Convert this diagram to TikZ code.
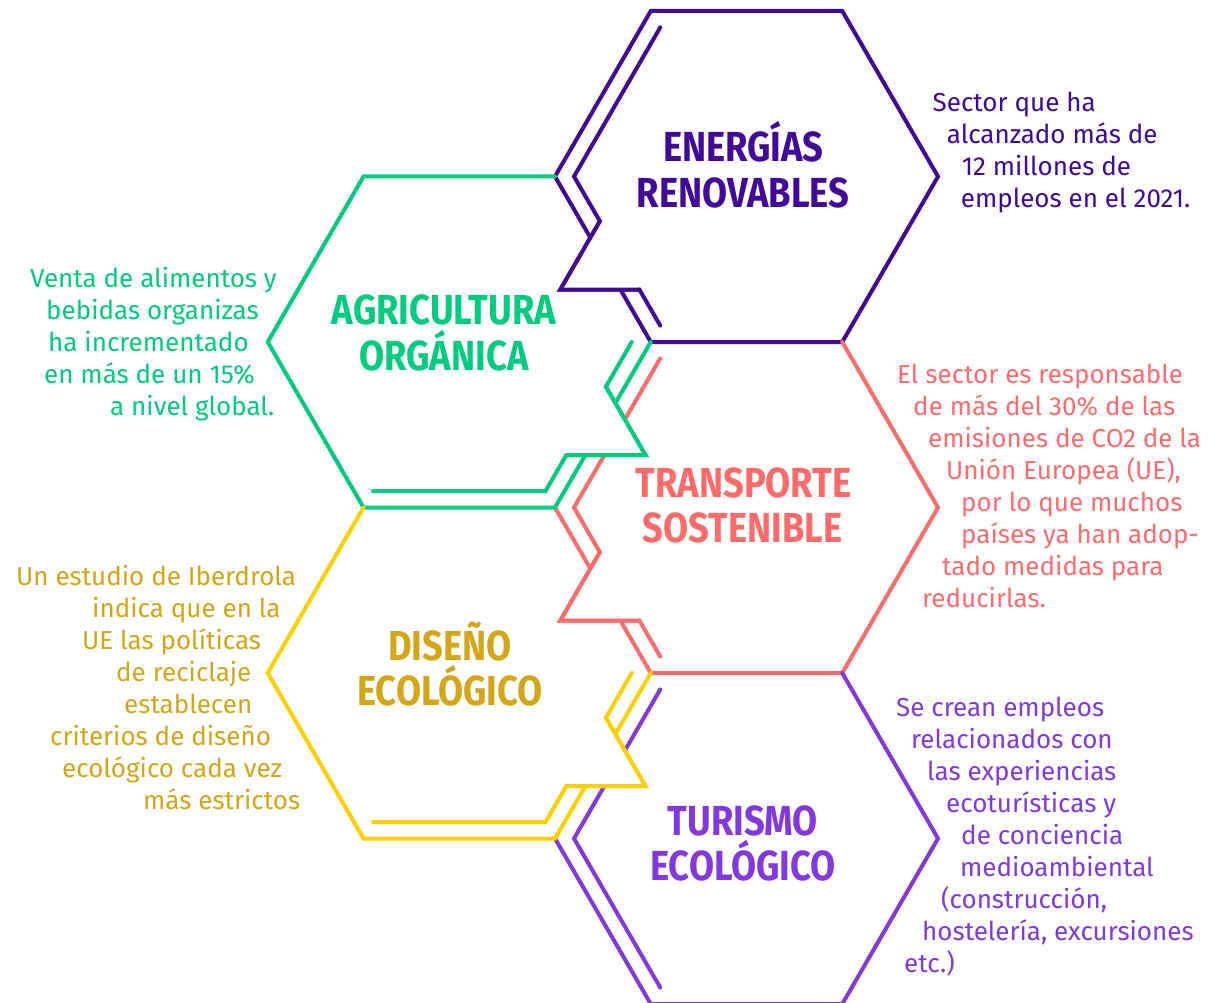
\documentclass[tikz,border=0pt]{standalone}
\usepackage{fontspec}
\usetikzlibrary{calc}
\newfontfamily\bodyfont{Fira Sans}
\newfontfamily\titlefont[FakeStretch=0.865]{Fira Sans}
\definecolor{cEc}{RGB}{66,8,153}
\definecolor{cAc}{RGB}{0,204,126}
\definecolor{cTc}{RGB}{255,107,107}
\definecolor{cDc}{RGB}{255,207,0}
\definecolor{cDt}{RGB}{212,165,20}
\definecolor{cUc}{RGB}{131,56,222}
\newcommand{\mkhex}[3]{%
 \coordinate (#1-0) at ({#2+191.5},{#3});
 \coordinate (#1-1) at ({#2+95.75},{#3-165.5});
 \coordinate (#1-2) at ({#2-95.75},{#3-165.5});
 \coordinate (#1-3) at ({#2-191.5},{#3});
 \coordinate (#1-4) at ({#2-95.75},{#3+165.5});
 \coordinate (#1-5) at ({#2+95.75},{#3+165.5});
 \coordinate (#1-i0) at ({#2+172.5},{#3});
 \coordinate (#1-i1) at ({#2+86.25},{#3-149.1});
 \coordinate (#1-i2) at ({#2-86.25},{#3-149.1});
 \coordinate (#1-i3) at ({#2-172.5},{#3});
 \coordinate (#1-i4) at ({#2-86.25},{#3+149.1});
 \coordinate (#1-i5) at ({#2+86.25},{#3+149.1});
}
\newcommand{\trileft}[1]{%
 \coordinate (#1-ta) at ($(#1-i3)!0.30!(#1-i4)$);
 \coordinate (#1-tc) at ($(#1-i3)!0.758!(#1-i4)$);
 \coordinate (#1-tb) at ($(#1-tc)+(-79,0)$);
}
\newcommand{\triright}[1]{%
 \coordinate (#1-ta) at ($(#1-i0)!0.30!(#1-i5)$);
 \coordinate (#1-tc) at ($(#1-i0)!0.758!(#1-i5)$);
 \coordinate (#1-tb) at ($(#1-tc)+(79,0)$);
}
\tikzset{
 hexline/.style={line width=4pt, line cap=round, line join=miter},
 ttl/.style={font=\titlefont\bfseries\fontsize{42}{46}\selectfont, anchor=base, inner sep=0pt},
 txt/.style={font=\bodyfont\fontsize{26}{32}\selectfont, anchor=base west, inner sep=0pt},
}
\begin{document}
\begin{tikzpicture}[x=1pt,y=-1pt]
\useasboundingbox (0,0) rectangle (1227,1003);
\fill[white] (0,0) rectangle (1227,1003);
\mkhex{E}{746.5}{176.5}
\mkhex{T}{746.5}{507.5}
\mkhex{U}{746.5}{838.5}
\mkhex{A}{459.25}{342}
\mkhex{D}{459.25}{673}
\trileft{E}
\trileft{T}
\triright{A}
\triright{D}
% outer outlines
\draw[hexline, cEc] (E-0)--(E-1)--(E-2)--(E-3)--(E-4)--(E-5)--cycle;
\draw[hexline, cTc] (T-3)--(T-4)--(T-5)--(T-0)--(T-1);
\draw[hexline, cUc] (U-3)--(U-4)--(U-5)--(U-0)--(U-1);
\draw[hexline, cAc] (A-1)--(A-2)--(A-3)--(A-4)--(A-5)--(A-0);
\draw[hexline, cDc] (D-2)--(D-3)--(D-4)--(D-5)--(D-0);
% inner lines
\draw[hexline, cEc] (E-i2)--(E-i3)--(E-ta)--(E-tb)--(E-tc)--(E-i4);
\draw[hexline, cTc] (T-i2)--(T-i3)--(T-ta)--(T-tb)--(T-tc)--(T-i4);
\draw[hexline, cUc] (U-i2)--(U-i3)--(U-i4);
\draw[hexline, cAc] (A-i4)--(A-i5)--(A-tc)--(A-tb)--(A-ta)--(A-i0);
\draw[hexline, cDc] (D-i4)--(D-i5)--(D-tc)--(D-tb)--(D-ta)--(D-i0);
% notches
\fill[white] (E-ta)--(E-tb)--(E-tc)--cycle;
\draw[hexline, cEc] (E-ta)--(E-tb)--(E-tc);
\fill[white] (T-ta)--(T-tb)--(T-tc)--cycle;
\draw[hexline, cTc] (T-ta)--(T-tb)--(T-tc);
\fill[white] (A-ta)--(A-tb)--(A-tc)--cycle;
\draw[hexline, cAc] (A-ta)--(A-tb)--(A-tc);
\fill[white] (D-ta)--(D-tb)--(D-tc)--cycle;
\draw[hexline, cDc] (D-ta)--(D-tb)--(D-tc);
% titles
\node[ttl, text=cEc] (tE1) at (743.5,162) {ENERGÍAS};
\node[ttl, text=cEc] (tE2) at (743,208) {RENOVABLES};
\node[ttl, text=cAc] (tA1) at (444,324) {AGRICULTURA};
\node[ttl, text=cAc] (tA2) at (444,370) {ORGÁNICA};
\node[ttl, text=cTc] (tT1) at (743.5,497) {TRANSPORTE};
\node[ttl, text=cTc] (tT2) at (742.5,542) {SOSTENIBLE};
\node[ttl, text=cDt] (tD1) at (450,660) {DISEÑO};
\node[ttl, text=cDt] (tD2) at (450,705) {ECOLÓGICO};
\node[ttl, text=cUc] (tU1) at (743,835) {TURISMO};
\node[ttl, text=cUc] (tU2) at (743,880) {ECOLÓGICO};
% energias text
\node[txt, text=cEc] (e1) at (932.5,111.5) {Sector que ha};
\node[txt, text=cEc] (e2) at (946.7,143.5) {alcanzado más de};
\node[txt, text=cEc] (e3) at (961.7,175.5) {12 millones de};
\node[txt, text=cEc] (e4) at (960.7,207.5) {empleos en el 2021.};
% agricultura text
\node[txt, text=cAc] (a1) at (30,287.5) {Venta de alimentos y};
\node[txt, text=cAc] (a2) at (46,319.5) {bebidas organizas};
\node[txt, text=cAc] (a3) at (48,351.5) {ha incrementado};
\node[txt, text=cAc] (a4) at (44,383.5) {en más de un 15\%};
\node[txt, text=cAc] (a5) at (110,415.5) {a nivel global.};
% transporte text
\node[txt, text=cTc] (t1) at (897,383.5) {El sector es responsable};
\node[txt, text=cTc] (t2) at (913,415.5) {de más del 30\% de las};
\node[txt, text=cTc] (t3) at (928,447.5) {emisiones de CO2 de la};
\node[txt, text=cTc] (t4) at (946,479.5) {Unión Europea (UE),};
\node[txt, text=cTc] (t5) at (961,511.5) {por lo que muchos};
\node[txt, text=cTc] (t6) at (961,543.5) {países ya han adop-};
\node[txt, text=cTc] (t7) at (942,575.5) {tado medidas para};
\node[txt, text=cTc] (t8) at (922,607.5) {reducirlas.};
% diseno text
\node[txt, text=cDt] (d1) at (16,585.5) {Un estudio de Iberdrola};
\node[txt, text=cDt] (d2) at (92,617.5) {indica que en la};
\node[txt, text=cDt] (d3) at (82,649.5) {UE las políticas};
\node[txt, text=cDt] (d4) at (116,681.5) {de reciclaje};
\node[txt, text=cDt] (d5) at (124,713.5) {establecen};
\node[txt, text=cDt] (d6) at (50,745.5) {criterios de diseño};
\node[txt, text=cDt] (d7) at (62,777.5) {ecológico cada vez};
\node[txt, text=cDt] (d8) at (143,809.5) {más estrictos};
% turismo text
\node[txt, text=cUc] (u1) at (896,716.5) {Se crean empleos};
\node[txt, text=cUc] (u2) at (911,748.5) {relacionados con};
\node[txt, text=cUc] (u3) at (927,780.5) {las experiencias};
\node[txt, text=cUc] (u4) at (946,812.5) {ecoturísticas y};
\node[txt, text=cUc] (u5) at (961,844.5) {de conciencia};
\node[txt, text=cUc] (u6) at (960,876.5) {medioambiental};
\node[txt, text=cUc] (u7) at (941,908.5) {(construcción,};
\node[txt, text=cUc] (u8) at (922,940.5) {hostelería, excursiones};
\node[txt, text=cUc] (u9) at (904,972.5) {etc.)};
\end{tikzpicture}
\end{document}
